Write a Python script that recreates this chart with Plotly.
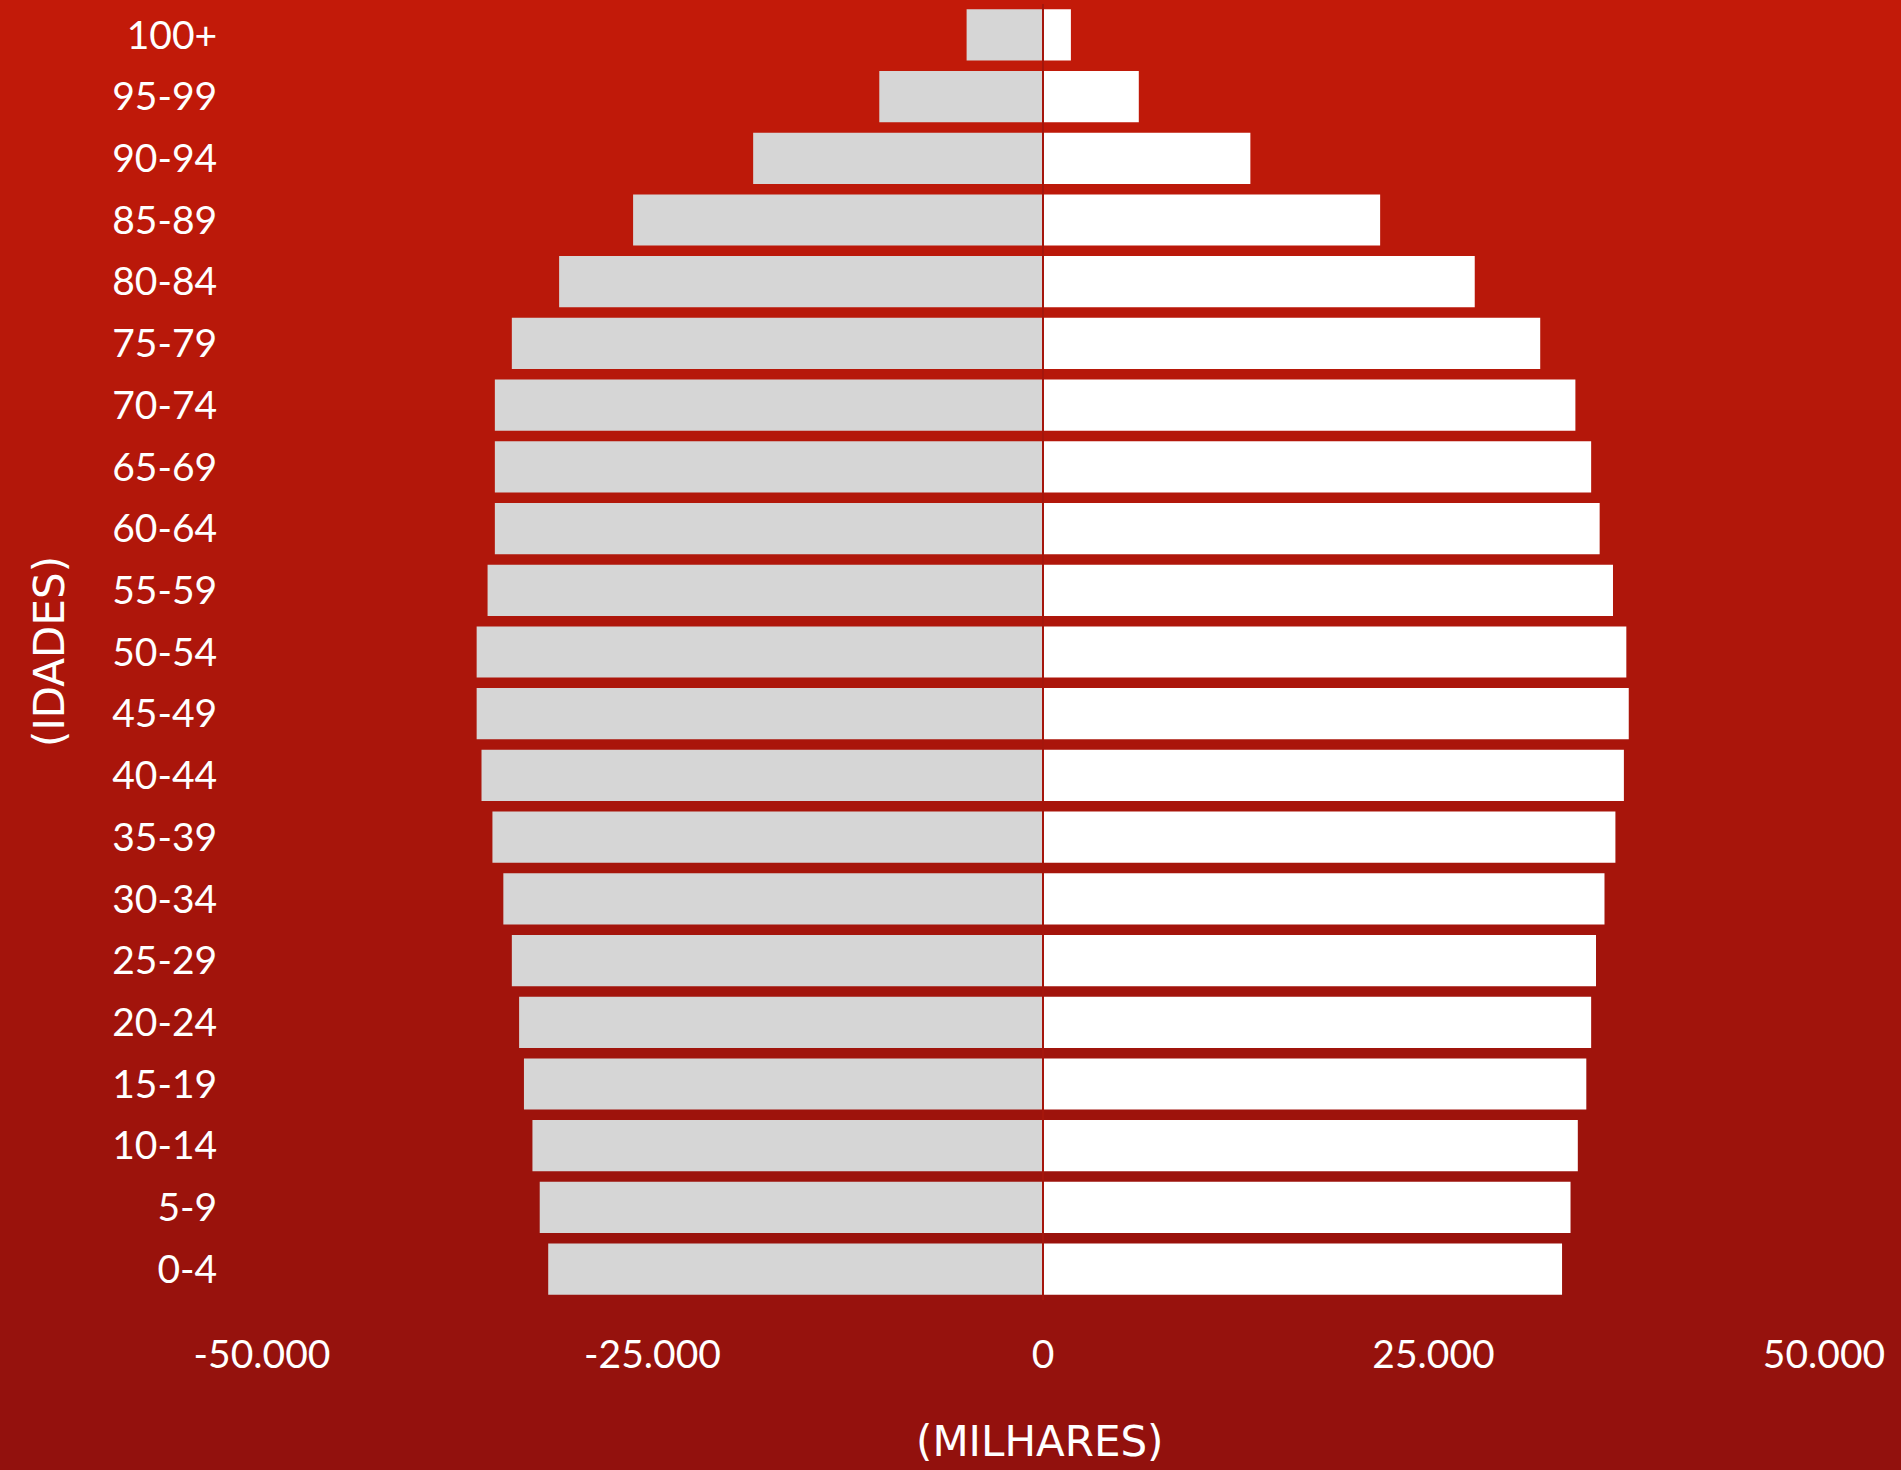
import plotly.graph_objects as go

# ---- data ----
age_groups = ["0-4", "5-9", "10-14", "15-19", "20-24", "25-29", "30-34", "35-39",
              "40-44", "45-49", "50-54", "55-59", "60-64", "65-69", "70-74",
              "75-79", "80-84", "85-89", "90-94", "95-99", "100+"]
# left side (grey) – values in thousands, plotted as negatives
left_values = [31677, 32220, 32686, 33230, 33540, 34006, 34550, 35248,
               35947, 36258, 36258, 35559, 35093, 35093, 35093,
               34006, 30978, 26242, 18556, 10481, 4891]
# right side (white)
right_values = [33230, 33773, 34239, 34783, 35093, 35404, 35947, 36646,
                37189, 37500, 37345, 36491, 35637, 35093, 34084,
                31832, 27640, 21584, 13276, 6133, 1786]
x_tick_vals = [-50000, -25000, 0, 25000, 50000]
x_tick_text = ["-50.000", "-25.000", "0", "25.000", "50.000"]

W, H = 1901, 1470
ML, MR, MT, MB = 262, 77, 4, 170
PW, PH = W - ML - MR, H - MT - MB

fig = go.Figure()
fig.add_trace(go.Bar(
    y=age_groups, x=[-v for v in left_values], orientation="h",
    marker=dict(color="#d6d6d6", line=dict(width=0)), name="left",
    showlegend=False))
fig.add_trace(go.Bar(
    y=age_groups, x=right_values, orientation="h",
    marker=dict(color="#ffffff", line=dict(width=0)), name="right",
    showlegend=False))

# gradient background built from thin horizontal strips
top_c = (195, 26, 9)
bot_c = (146, 17, 13)
n = 147
shapes = []
for i in range(n):
    p0 = H * i / n
    p1 = H * (i + 1) / n + 1
    t = (i + 0.5) / n
    c = tuple(round(top_c[k] + (bot_c[k] - top_c[k]) * t) for k in range(3))
    shapes.append(dict(
        type="rect", xref="paper", yref="paper", layer="below",
        x0=-ML / PW - 0.01, x1=(W - ML) / PW + 0.01,
        y0=(H - MB - p1) / PH, y1=(H - MB - p0) / PH,
        fillcolor="rgb(%d,%d,%d)" % c, line=dict(width=0)))
# thin centre gap line
shapes.append(dict(type="line", xref="x", yref="paper", layer="above",
                   x0=0, x1=0, y0=0, y1=1,
                   line=dict(color="rgb(165,22,12)", width=2)))

fig.update_layout(
    width=W, height=H,
    margin=dict(l=ML, r=MR, t=MT, b=MB, pad=0),
    paper_bgcolor="rgb(170,22,11)",
    plot_bgcolor="rgba(0,0,0,0)",
    barmode="overlay",
    bargap=0.17,
    shapes=shapes,
    font=dict(family="Lato, Open Sans, sans-serif", color="white"),
    xaxis=dict(
        range=[-50000, 50000], tickvals=x_tick_vals, ticktext=x_tick_text,
        showgrid=False, zeroline=False, showline=False,
        ticks="outside", ticklen=20, tickcolor="rgba(0,0,0,0)",
        tickfont=dict(family="Lato, sans-serif", size=39, color="white"),
        fixedrange=True),
    yaxis=dict(
        type="category", categoryorder="array", categoryarray=age_groups,
        showgrid=False, zeroline=False, showline=False,
        ticks="outside", ticklen=36, tickcolor="rgba(0,0,0,0)",
        tickfont=dict(family="Lato, sans-serif", size=39, color="white"),
        fixedrange=True),
    annotations=[
        dict(text="(MILHARES)", xref="paper", yref="paper",
             x=(1040 - ML) / PW, y=(H - MB - 1441) / PH,
             xanchor="center", yanchor="middle", showarrow=False,
             font=dict(family="DejaVu Sans, sans-serif", size=42, color="white")),
        dict(text="(IDADES)", xref="paper", yref="paper",
             x=(49 - ML) / PW, y=0.5, textangle=-90,
             xanchor="center", yanchor="middle", showarrow=False,
             font=dict(family="DejaVu Sans, sans-serif", size=42, color="white")),
    ],
)

fig.write_html(
    "out.html",
    config={"displayModeBar": False},
    post_script="document.body.style.margin='0';document.body.style.padding='0';"
                "document.documentElement.style.margin='0';"
                "document.body.style.overflow='hidden';",
)
